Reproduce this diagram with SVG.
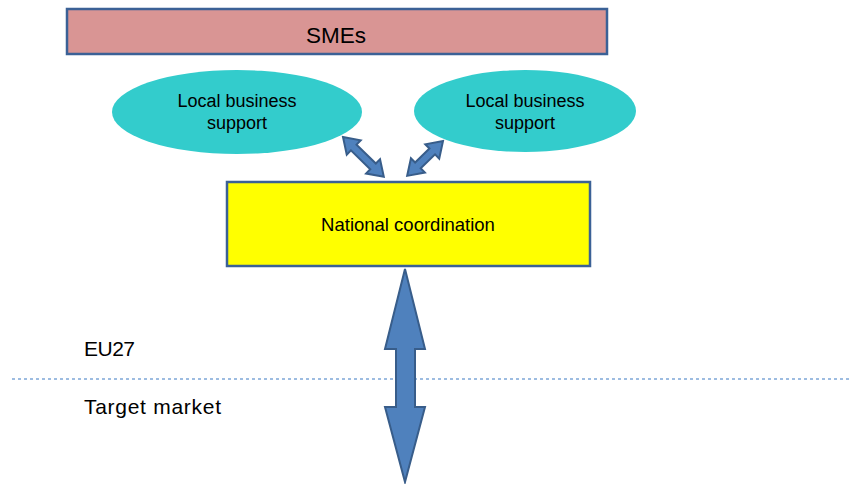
<svg xmlns="http://www.w3.org/2000/svg" width="854" height="484" viewBox="0 0 854 484">
<style>
.t{font-family:"Liberation Sans",Arial,sans-serif;fill:#000;text-anchor:middle}
.arr{fill:#4f81bd;stroke:#385d8a;stroke-width:2;stroke-linejoin:miter}
.box{stroke:#3b6196;stroke-width:2.5}
.ell{fill:#33cccc}
</style>
<rect width="854" height="484" fill="#fff"/>
<g id="divider">
<line x1="12" y1="379" x2="852" y2="379" stroke="#7ea6d8" stroke-width="1.5" stroke-dasharray="3,3"/>
</g>
<g id="labels">
<text x="84" y="356" font-family="Liberation Sans,Arial,sans-serif" font-size="21" textLength="51">EU27</text>
<text x="84" y="414" font-family="Liberation Sans,Arial,sans-serif" font-size="21" textLength="137">Target market</text>
</g>
<g id="smes">
<rect class="box" x="67" y="9" width="540" height="45" fill="#d99594"/>
<text class="t" x="336" y="43" font-size="22.5">SMEs</text>
</g>
<g id="local1">
<ellipse class="ell" cx="237" cy="112" rx="125" ry="42"/>
<text class="t" x="237" y="107" font-size="18">Local business</text>
<text class="t" x="237" y="129" font-size="18">support</text>
</g>
<g id="local2">
<ellipse class="ell" cx="525" cy="111" rx="111" ry="41"/>
<text class="t" x="525" y="107" font-size="18">Local business</text>
<text class="t" x="525" y="129" font-size="18">support</text>
</g>
<g id="national">
<rect class="box" x="227" y="182" width="363" height="84" fill="#ffff00"/>
<text class="t" x="408" y="231" font-size="18.5">National coordination</text>
</g>
<g id="connectors">
<polygon class="arr" transform="translate(343,137) rotate(44.3)" points="0,0 15,-10 15,-4 42,-4 42,-10 57,0 42,10 42,4 15,4 15,10"/>
<polygon class="arr" transform="translate(443,141) rotate(135.8)" points="0,0 15,-10 15,-4 35,-4 35,-10 50,0 35,10 35,4 15,4 15,10"/>
<polygon class="arr" points="405,269 425,349 415,349 415,407 425,407 405,482 385,407 396,407 396,349 385,349"/>
</g>
</svg>
